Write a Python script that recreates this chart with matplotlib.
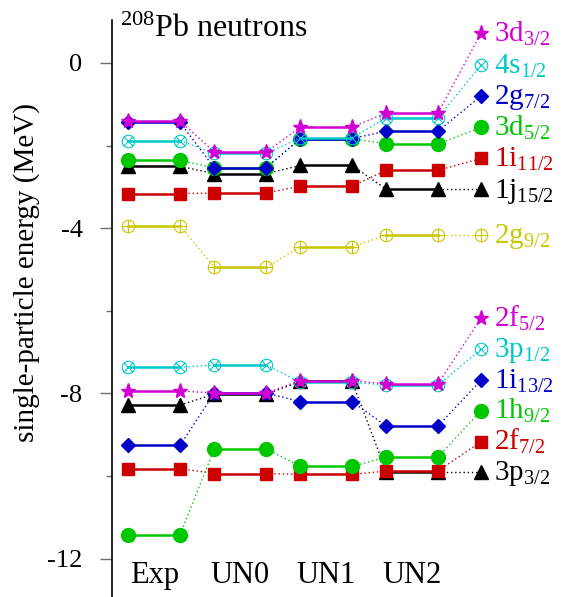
import matplotlib
matplotlib.use("Agg")
import matplotlib.pyplot as plt
from matplotlib.path import Path

plt.rcParams.update({
    "font.family": "Liberation Serif",
    "mathtext.fontset": "custom",
    "mathtext.rm": "Liberation Serif",
    "mathtext.it": "Liberation Serif:italic",
    "mathtext.bf": "Liberation Serif:bold",
})

# ---------------------------------------------------------------------------
# data (MeV), columns Exp, UN0, UN1, UN2
# ---------------------------------------------------------------------------
columns = ["Exp", "UN0", "UN1", "UN2"]

levels = ["3d3/2", "4s1/2", "2g7/2", "3d5/2", "1i11/2", "1j15/2", "2g9/2",
          "2f5/2", "3p1/2", "1i13/2", "1h9/2", "2f7/2", "3p3/2"]

e_3d32 = [-1.40, -2.16, -1.55, -1.21]
e_4s12 = [-1.88, -2.19, -1.81, -1.33]
e_2g72 = [-1.44, -2.54, -1.83, -1.65]
e_3d52 = [-2.36, -2.54, -1.83, -1.96]
e_1i112 = [-3.16, -3.15, -2.98, -2.60]
e_1j152 = [-2.50, -2.68, -2.48, -3.06]
e_2g92 = [-3.94, -4.95, -4.45, -4.17]
e_2f52 = [-7.94, -7.99, -7.69, -7.77]
e_3p12 = [-7.37, -7.31, -7.73, -7.80]
e_1i132 = [-9.26, -7.99, -8.20, -8.79]
e_1h92 = [-11.42, -9.34, -9.77, -9.54]
e_2f72 = [-9.82, -9.94, -9.96, -9.88]
e_3p32 = [-8.28, -8.02, -7.71, -9.90]

# where the level names sit on the right
label_y = [0.72, -0.05, -0.80, -1.56, -2.31, -3.06, -4.17,
           -6.18, -6.93, -7.68, -8.42, -9.17, -9.90]

energies = [e_3d32, e_4s12, e_2g72, e_3d52, e_1i112, e_1j152, e_2g92,
            e_2f52, e_3p12, e_1i132, e_1h92, e_2f72, e_3p32]

# ---------------------------------------------------------------------------
# styles
# ---------------------------------------------------------------------------
MAG, CYA, BLU, GRN, RED, BLK, YEL = ("#d200d2", "#00c8c8", "#0000c8", "#00c800",
                                     "#cc0000", "#000000", "#c8c800")

circle = Path.unit_circle()
r = 0.7071
otimes = Path.make_compound_path(circle, Path(
    [(-r, -r), (r, r), (-r, r), (r, -r)],
    [Path.MOVETO, Path.LINETO, Path.MOVETO, Path.LINETO]))
oplus = Path.make_compound_path(circle, Path(
    [(-1, 0), (1, 0), (0, -1), (0, 1)],
    [Path.MOVETO, Path.LINETO, Path.MOVETO, Path.LINETO]))

# (color, marker, size, filled, zorder)
sty = {
    "magenta": (MAG, "*", 11, True, 8),
    "cyan": (CYA, otimes, 9, False, 7),
    "blue": (BLU, "D", 7.5, True, 6),
    "green": (GRN, "o", 10, True, 5),
    "red": (RED, "s", 9, True, 4),
    "black": (BLK, "^", 9.5, True, 3),
    "yellow": (YEL, oplus, 9, False, 2),
}
level_style = ["magenta", "cyan", "blue", "green", "red", "black", "yellow",
               "magenta", "cyan", "blue", "green", "red", "black"]

HW = 0.30      # half width of a level bar
XMARK = 3.80   # marker in the label column
XTEXT = 3.95

fig = plt.figure(figsize=(5.79, 5.97), dpi=100)
ax = fig.add_axes([0.193, 0.0, 0.807, 0.9665])

for name, ev, key, ly in zip(levels, energies, level_style, label_y):
    c, m, ms, filled, z = sty[key]
    mk = dict(marker=m, ms=ms, mec=c, mfc=c if filled else "none",
              mew=1.0 if filled else 0.8)
    for j, e in enumerate(ev):
        ax.plot([j - HW, j + HW], [e, e], color=c, lw=1.8, zorder=z, **mk)
        if j < len(ev) - 1:
            ax.plot([j + HW, j + 1 - HW], [e, ev[j + 1]], color=c, lw=1.0,
                    ls=(0, (1, 2)), zorder=z - 0.5)
    ax.plot([3 + HW, XMARK], [ev[-1], ly], color=c, lw=1.0, ls=(0, (1, 2)),
            zorder=z - 0.5)
    ax.plot([XMARK], [ly], color=c, zorder=z, **mk)
    txt = name[:2] + r"$_{\mathrm{" + name[2:] + "}}$"
    ax.text(XTEXT, ly - 0.20, txt, color=c, fontsize=21, va="baseline",
            ha="left", clip_on=False)

for j, col in enumerate(columns):
    ax.text(j, -12.59, col, fontsize=22, ha="center", va="baseline")

ax.text(-0.40, 0.62, r"$^{208}$Pb neutrons", fontsize=23, ha="left",
        va="baseline")

ax.set_xlim(-0.494, 4.94)
ax.set_ylim(-12.93, 1.041)
ax.set_yticks([0, -4, -8, -12])
ax.set_yticklabels(["0", "-4", "-8", "-12"])
ax.set_yticks([-2, -6, -10], minor=True)
ax.tick_params(axis="y", which="major", length=9, width=1, color="#707070",
               labelsize=19, pad=12)
ax.tick_params(axis="y", which="minor", length=4.5, width=1, color="#707070")
ax.set_xticks([])
for s in ["top", "right", "bottom"]:
    ax.spines[s].set_visible(False)
ax.spines["left"].set_linewidth(1.2)

fig.text(27 / 579, 0.544, "single-particle energy (MeV)", rotation=90,
         fontsize=21, ha="center", va="center")

fig.savefig("out.png", dpi=100, facecolor="white")
